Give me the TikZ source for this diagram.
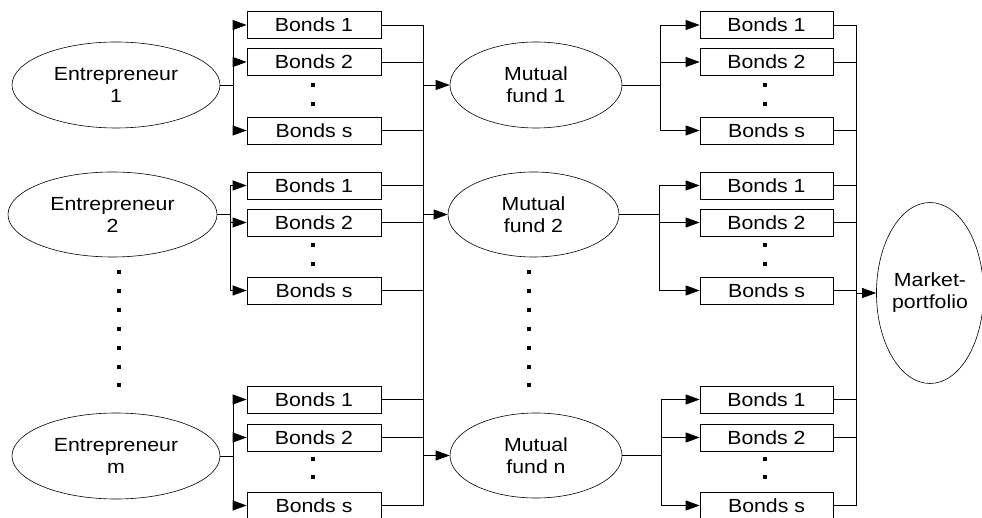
\documentclass[tikz,border=0pt]{standalone}
\usepackage{fontspec}
\setmainfont[FakeStretch=1.12]{Liberation Sans}
\usetikzlibrary{shapes.geometric,arrows.meta}
\begin{document}
\begin{tikzpicture}[x=1pt,y=-1pt,
  txt/.style={font=\fontsize{19}{22}\selectfont},
  bbox/.style={txt,draw,line width=0.7pt,minimum width=134pt,minimum height=27pt,inner sep=0pt},
  ell/.style={txt,draw,ellipse,line width=0.6pt,inner sep=0pt,align=center},
  ln/.style={line width=0.8pt},
  arr/.style={line width=0.8pt,-{Triangle[length=14pt,width=10pt]}},
  dotm/.style={fill=black}]
\useasboundingbox (0,0) rectangle (982,518);
\clip (0,0) rectangle (982,518);
% ---- ellipses
\node[ell,minimum width=208pt,minimum height=86pt] (E1) at (116,85) {Entrepreneur\\1};
\node[ell,minimum width=209pt,minimum height=85pt] (E2) at (112.5,214.5) {Entrepreneur\\2};
\node[ell,minimum width=208pt,minimum height=86pt] (Em) at (116,456) {Entrepreneur\\m};
\node[ell,minimum width=172pt,minimum height=86pt] (M1) at (536,85) {Mutual\\fund 1};
\node[ell,minimum width=171pt,minimum height=85pt] (M2) at (533.5,214.5) {Mutual\\fund 2};
\node[ell,minimum width=172pt,minimum height=85pt] (Mn) at (536,455.5) {Mutual\\fund n};
\node[ell,minimum width=100pt,minimum height=181pt] (MP) at (930,293) {Market-\\portfolio};
% ---- left boxes
\node[bbox] (a1) at (314,25) {Bonds 1};
\node[bbox] (a2) at (314,62) {Bonds 2};
\node[bbox] (as) at (314,130.5) {Bonds s};
\node[bbox] (b1) at (314,185.5) {Bonds 1};
\node[bbox] (b2) at (314,222.5) {Bonds 2};
\node[bbox] (bs) at (314,290.5) {Bonds s};
\node[bbox] (c1) at (314,399.5) {Bonds 1};
\node[bbox] (c2) at (314,437.5) {Bonds 2};
\node[bbox] (cs) at (314,505.5) {Bonds s};
% ---- right boxes
\node[bbox,minimum width=133pt] (d1) at (766.5,25) {Bonds 1};
\node[bbox,minimum width=133pt] (d2) at (766.5,62) {Bonds 2};
\node[bbox,minimum width=133pt] (ds) at (766.5,130.5) {Bonds s};
\node[bbox,minimum width=133pt] (e1) at (766.5,185.5) {Bonds 1};
\node[bbox,minimum width=133pt] (e2) at (766.5,222.5) {Bonds 2};
\node[bbox,minimum width=133pt] (es) at (766.5,290.5) {Bonds s};
\node[bbox,minimum width=133pt] (f1) at (766.5,399.5) {Bonds 1};
\node[bbox,minimum width=133pt] (f2) at (766.5,437.5) {Bonds 2};
\node[bbox,minimum width=133pt] (fs) at (766.5,505.5) {Bonds s};
% ---- junction coordinates
\coordinate (JA) at (233,0);
\coordinate (JB) at (230,0);
\coordinate (JC) at (233,0);
\coordinate (JD) at (660,0);
\coordinate (JE) at (659,0);
\coordinate (JF) at (661,0);
\coordinate (BL) at (423,0);
\coordinate (BR) at (856,0);
% ---- fan-outs
\foreach \E/\J/\p in {E1/JA/a,E2/JB/b,Em/JC/c,M1/JD/d,M2/JE/e,Mn/JF/f}{
  \foreach \k in {1,2,s}{
    \draw[arr] (\E.east) -- (\E.east -| \J) |- (\p\k.west);
  }
}
% ---- collectors
\foreach \p in {a,b,c}{
  \foreach \k in {1,2,s}{
    \draw[ln] (\p\k.east) -- (\p\k.east -| BL);
  }
}
\foreach \p in {d,e,f}{
  \foreach \k in {1,2,s}{
    \draw[ln] (\p\k.east) -- (\p\k.east -| BR);
  }
}
\draw[ln] (a1.east -| BL) -- (cs.east -| BL);
\draw[ln] (d1.east -| BR) -- (fs.east -| BR);
\draw[arr] (M1.west -| BL) -- (M1.west);
\draw[arr] (M2.west -| BL) -- (M2.west);
\draw[arr] (Mn.west -| BL) -- (Mn.west);
\draw[arr] (MP.west -| BR) -- (MP.west);
% ---- dots
\foreach \x/\y in {313/85,313/104,313/245,313/264,313/459,313/477,
                   765/85,765/104,765/245,765/264,765/459,765/477}{
  \fill[dotm] (\x-1.7,\y-1.7) rectangle (\x+1.7,\y+1.7);
}
\foreach \y in {272,291,310,329,348,367,385}{
  \fill[dotm] (117.3,\y-1.7) rectangle (120.7,\y+1.7);
  \fill[dotm] (527.3,\y-1.7) rectangle (530.7,\y+1.7);
}
\end{tikzpicture}
\end{document}
